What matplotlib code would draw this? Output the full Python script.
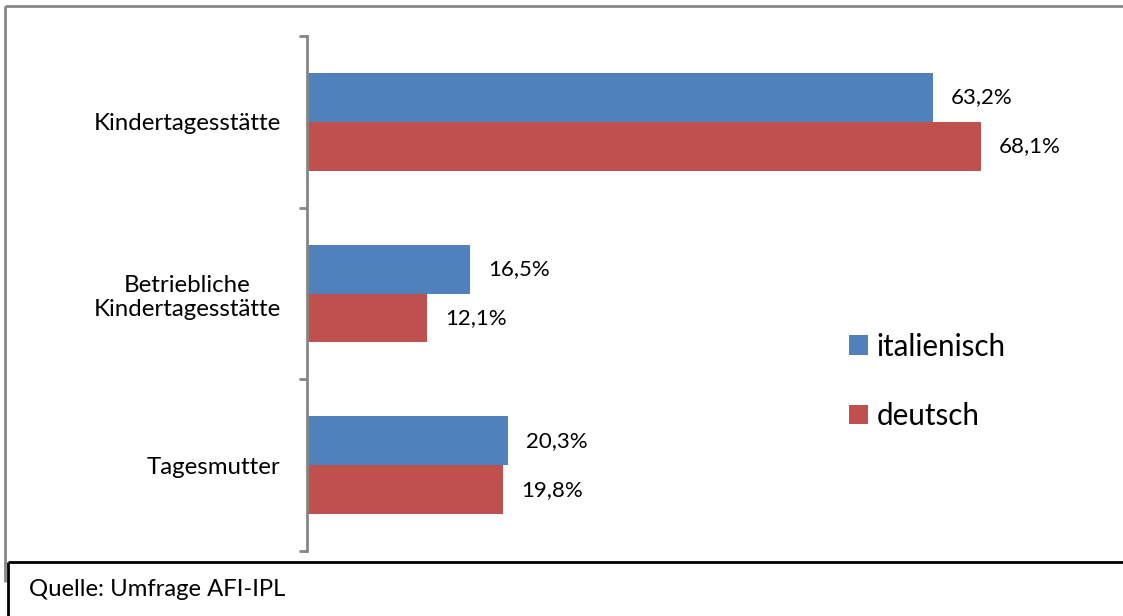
import matplotlib.pyplot as plt
from matplotlib.lines import Line2D
from matplotlib.patches import Rectangle, Patch
import numpy as np

# data
categories = ['Kindertagesstätte', 'Betriebliche\nKindertagesstätte', 'Tagesmutter']
italienisch = [63.2, 16.5, 20.3]
deutsch = [68.1, 12.1, 19.8]
series_names = ['italienisch', 'deutsch']
colors = ['#4F81BD', '#C0504D']

plt.rcParams['font.family'] = ['Lato', 'DejaVu Sans']

W, H = 1123, 616
fig = plt.figure(figsize=(W / 100, H / 100), dpi=100)

# outer chart border (gray): only top and left are visible
gray = '#868686'
fig.add_artist(Line2D([5 / W, 1.02], [1 - 6 / H, 1 - 6 / H], color=gray, lw=2,
                      solid_capstyle='butt', transform=fig.transFigure))
fig.add_artist(Line2D([5 / W, 5 / W], [1 - 6 / H, 1 - 582 / H], color=gray, lw=2,
                      solid_capstyle='butt', transform=fig.transFigure))

ax = fig.add_axes([307 / W, 1 - 551 / H, 792 / W, 515 / H])
ax.set_facecolor('none')

y = np.arange(len(categories))
h = 0.285
b1 = ax.barh(y - h / 2, italienisch, height=h, color=colors[0])
b2 = ax.barh(y + h / 2, deutsch, height=h, color=colors[1])

fmt = lambda v: f'{v:.1f}%'.replace('.', ',')
ax.bar_label(b1, labels=[fmt(v) for v in italienisch], padding=13, fontsize=16)
ax.bar_label(b2, labels=[fmt(v) for v in deutsch], padding=13, fontsize=16)

ax.set_xlim(0, 80)
ax.set_ylim(2.5, -0.5)
ax.set_xticks([])

# category boundaries as ticks, names as minor labels
ax.set_yticks([-0.5, 0.5, 1.5, 2.5])
ax.set_yticklabels([])
ax.set_yticks(y, minor=True)
ax.set_yticklabels(categories, minor=True, fontsize=17.3, multialignment='center')
ax.tick_params(axis='y', which='major', length=6, width=2, color=gray)
ax.tick_params(axis='y', which='minor', length=0, pad=19)

for s in ['top', 'right', 'bottom']:
    ax.spines[s].set_visible(False)
ax.spines['left'].set_color(gray)
ax.spines['left'].set_linewidth(2)

handles = [Patch(facecolor=c) for c in colors]
fig.legend(handles, series_names, loc='upper left',
           bbox_to_anchor=(822 / W, 1 - 306 / H), frameon=False,
           fontsize=21.3, handlelength=0.64, handleheight=0.64,
           handletextpad=0.3, labelspacing=1.4)

# source box (black frame, open to the right and bottom)
fig.add_artist(Rectangle((8 / W, -0.02), 1.05, (616 - 562) / H + 0.02,
                         transform=fig.transFigure, facecolor='white',
                         edgecolor='none', zorder=5))
fig.add_artist(Line2D([8 / W, 1.02], [1 - 562 / H, 1 - 562 / H], color='black', lw=2,
                      solid_capstyle='butt', transform=fig.transFigure, zorder=6))
fig.add_artist(Line2D([8 / W, 8 / W], [1 - 562 / H, -0.02], color='black', lw=2,
                      solid_capstyle='butt', transform=fig.transFigure, zorder=6))
fig.text(29 / W, 1 - 590 / H, 'Quelle: Umfrage AFI-IPL', fontsize=17.2,
         va='center', ha='left', zorder=7)

fig.savefig('out.png', dpi=100)
